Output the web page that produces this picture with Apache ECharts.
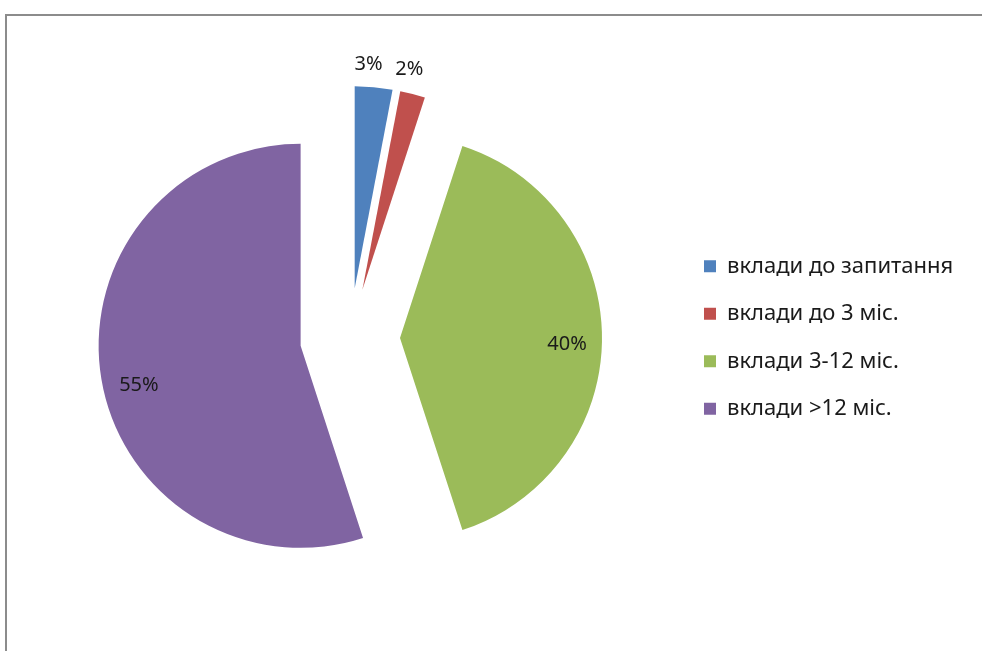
<!DOCTYPE html>
<html>
<head>
<meta charset="utf-8">
<script src="https://cdn.jsdelivr.net/npm/echarts@6/dist/echarts.min.js"></script>
<style>
  html, body { margin: 0; padding: 0; background: #fff; }
  #frame {
    position: absolute; left: 5px; top: 14px; width: 1000px; height: 660px;
    border-left: 2px solid #8c8c8c; border-top: 2px solid #8c8c8c;
  }
  #main { position: absolute; left: 0; top: 0; width: 982px; height: 651px; }
</style>
</head>
<body>
<div id="frame"></div>
<div id="main"></div>
<script>
// категорії вкладів
const categories = ['вклади до запитання', 'вклади до 3 міс.', 'вклади 3-12 міс.', 'вклади >12 міс.'];
const shares = [3, 2, 40, 55];
const colors = ['#4F81BD', '#C0504D', '#9BBB59', '#8064A2'];

// зсув підписів від стандартного положення inside
const labelShift = [[4, -120], [21, -120], [63, 6], [-59, 23]];

const myChart = echarts.init(document.getElementById('main'));

myChart.setOption({
  animation: false,
  color: colors,
  legend: {
    orient: 'vertical',
    left: 704,
    top: 255,
    padding: 0,
    icon: 'rect',
    itemWidth: 12,
    itemHeight: 12,
    itemGap: 25,
    textStyle: { fontFamily: 'Noto Sans', fontSize: 22, lineHeight: 22.5, color: '#1a1a1a', padding: [0, 0, 0, 6] },
    data: categories
  },
  series: [{
    type: 'pie',
    center: [350, 338],
    radius: 202,
    startAngle: 90,
    selectedMode: 'multiple',
    selectedOffset: 50,
    label: {
      position: 'inside',
      formatter: '{d}%',
      fontFamily: 'Noto Sans',
      fontSize: 20,
      color: '#1a1a1a'
    },
    labelLine: { show: false },
    labelLayout: function (p) {
      const s = labelShift[p.dataIndex];
      return { dx: s[0], dy: s[1] };
    },
    emphasis: { disabled: true },
    data: categories.map((name, i) => ({ name: name, value: shares[i], selected: true }))
  }]
});
</script>
</body>
</html>
